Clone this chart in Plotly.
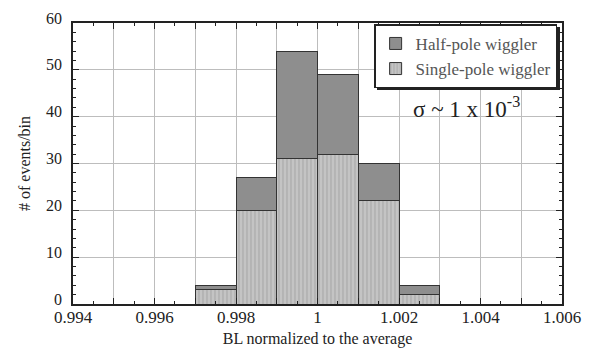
import plotly.graph_objects as go

bin_centers = [0.9975, 0.9985, 0.9995, 1.0005, 1.0015, 1.0025]
single_pole = [3, 20, 31, 32, 22, 2]
half_pole = [1, 7, 23, 17, 8, 2]
x_tickvals = [0.994, 0.995, 0.996, 0.997, 0.998, 0.999, 1.000, 1.001, 1.002, 1.003, 1.004, 1.005, 1.006]
x_ticktext = ["0.994", "", "0.996", "", "0.998", "", "1", "", "1.002", "", "1.004", "", "1.006"]

FONT = "Liberation Serif"

fig = go.Figure()
fig.add_trace(go.Bar(
    x=bin_centers, y=single_pole, width=0.001, name="Single-pole wiggler",
    marker=dict(color="#b8b8b8", line=dict(color="#333333", width=1),
                pattern=dict(shape="|", fgcolor="#8f8f8f", bgcolor="#c4c4c4", size=4, solidity=0.3)),
))
fig.add_trace(go.Bar(
    x=bin_centers, y=half_pole, width=0.001, name="Half-pole wiggler",
    marker=dict(color="#8e8e8e", line=dict(color="#333333", width=1)),
))

# legend drop shadow (drawn under the legend box)
fig.add_shape(type="rect", xref="paper", yref="paper",
              x0=0.6217, x1=0.9959, y0=0.7616, y1=0.9858,
              fillcolor="#222222", line=dict(width=0), layer="above")

fig.update_layout(
    width=589, height=351,
    margin=dict(l=73, r=27, t=23, b=47),
    barmode="stack",
    plot_bgcolor="white", paper_bgcolor="white",
    font=dict(family=FONT, size=16, color="#222222"),
    showlegend=True,
    legend=dict(x=0.99, y=0.995, xanchor="right", yanchor="top",
                bgcolor="white", bordercolor="#222222", borderwidth=1.5,
                traceorder="reversed", font=dict(family=FONT, size=17, color="#555555"),
                tracegroupgap=0, itemwidth=30),
    xaxis=dict(range=[0.994, 1.006], tickmode="array", tickvals=x_tickvals, ticktext=x_ticktext,
               showgrid=True, gridcolor="#bdbdbd", gridwidth=1, automargin=False,
               showline=True, linecolor="#222222", linewidth=1.5, mirror="allticks",
               ticks="inside", ticklen=6, tickcolor="#222222", ticklabelstandoff=-3,
               minor=dict(dtick=0.0005, tick0=0.994, ticks="inside", ticklen=3, showgrid=False, tickcolor="#222222"),
               tickfont=dict(size=17),
               title=dict(text="BL normalized to the average", font=dict(size=16), standoff=7),
               zeroline=False),
    yaxis=dict(range=[0, 60], dtick=10, tick0=0,
               showgrid=True, gridcolor="#bdbdbd", gridwidth=1, automargin=False,
               showline=True, linecolor="#222222", linewidth=1.5, mirror="allticks",
               ticks="inside", ticklen=6, tickcolor="#222222", ticklabelstandoff=6, ticklabelshift=-5,
               minor=dict(dtick=2, ticks="inside", ticklen=3, showgrid=False, tickcolor="#222222"),
               tickfont=dict(size=16),
               title=dict(text="# of events/bin", font=dict(size=16), standoff=11),
               zeroline=False),
    annotations=[dict(x=1.00365, y=42, xref="x", yref="y", showarrow=False,
                      text="σ ~ 1 x 10<sup>-3</sup>", font=dict(family=FONT, size=23, color="#222222"))],
)

fig.write_html("out.html", config={"displayModeBar": False},
               post_script="document.body.style.margin='0';")
